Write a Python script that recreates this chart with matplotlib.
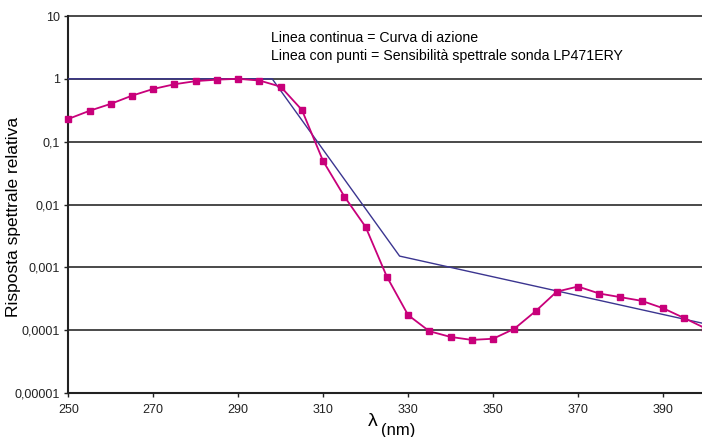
import matplotlib
matplotlib.use("Agg")
import matplotlib.pyplot as plt
from matplotlib.ticker import FixedLocator, FixedFormatter, NullLocator

plt.rcParams['font.family'] = ['Liberation Sans Narrow', 'Liberation Sans', 'DejaVu Sans']

# Sensor spectral sensitivity (points)
wl_sensor = [250, 255, 260, 265, 270, 275, 280, 285, 290, 295, 300, 305, 310, 315,
             320, 325, 330, 335, 340, 345, 350, 355, 360, 365, 370, 375, 380, 385,
             390, 395, 400]
resp_sensor = [0.23, 0.31, 0.40, 0.54, 0.69, 0.82, 0.92, 0.97, 1.0, 0.94, 0.75, 0.32,
               0.049, 0.0134, 0.0044, 0.00071, 0.000174, 0.0000963, 0.000078,
               0.000070, 0.000073, 0.000105, 0.00020, 0.00041, 0.000495, 0.000383,
               0.000335, 0.000293, 0.000224, 0.000156, 0.000107]

# Action curve (vertices)
wl_action = [250, 298, 328, 400]
resp_action = [1.0, 1.0, 0.00151, 0.000126]

yticks = [1e-5, 1e-4, 1e-3, 1e-2, 1e-1, 1, 10]
ytick_labels = ["0,00001", "0,0001", "0,001", "0,01", "0,1", "1", "10"]
xticks = [250, 270, 290, 310, 330, 350, 370, 390]

fig = plt.figure(figsize=(7.02, 4.37), dpi=100)
ax = fig.add_axes([68.3/702, 1 - 393/437, (702 - 68.3)/702, (393 - 16)/437])

ax.set_yscale('log')
ax.set_ylim(1e-5, 10)
ax.set_xlim(250, 399.2)

for v in yticks[1:]:
    ax.axhline(v, color='#3c3c3c', lw=1.3, zorder=1, clip_on=False)

ax.plot(wl_action, resp_action, color='#3b3590', lw=1.0, zorder=3)
ax.plot(wl_sensor, resp_sensor, color='#c8007a', lw=1.3, marker='s', ms=5,
        markeredgecolor='#c8007a', markerfacecolor='#c8007a', zorder=4, clip_on=False)

ax.yaxis.set_major_locator(FixedLocator(yticks))
ax.yaxis.set_major_formatter(FixedFormatter(ytick_labels))
ax.yaxis.set_minor_locator(NullLocator())
ax.set_xticks(xticks)
ax.set_xticklabels([str(x) for x in xticks])
ax.tick_params(axis='both', direction='out', length=3, width=1, labelsize=9, colors='#222222')
ax.tick_params(axis='y', pad=3)
ax.tick_params(axis='x', pad=5)

for s in ['top', 'right']:
    ax.spines[s].set_visible(False)
for s in ['left', 'bottom']:
    ax.spines[s].set_color('#222222')
    ax.spines[s].set_linewidth(1.5)

fig.text(14/702, 1 - 217/437, "Risposta spettrale relativa", rotation=90,
         ha='center', va='center', fontsize=12.5)
fig.text(378/702, 1 - 422/437, "λ", ha='right', va='center', fontsize=14)
fig.text(381/702, 1 - 430/437, "(nm)", ha='left', va='center', fontsize=12)

ax.text(271/702, 1 - 38/437, "Linea continua = Curva di azione", transform=fig.transFigure,
        ha='left', va='center', fontsize=10.2)
ax.text(271/702, 1 - 56/437, "Linea con punti = Sensibilità spettrale sonda LP471ERY",
        transform=fig.transFigure, ha='left', va='center', fontsize=10.2)

fig.savefig("out.png", dpi=100)
